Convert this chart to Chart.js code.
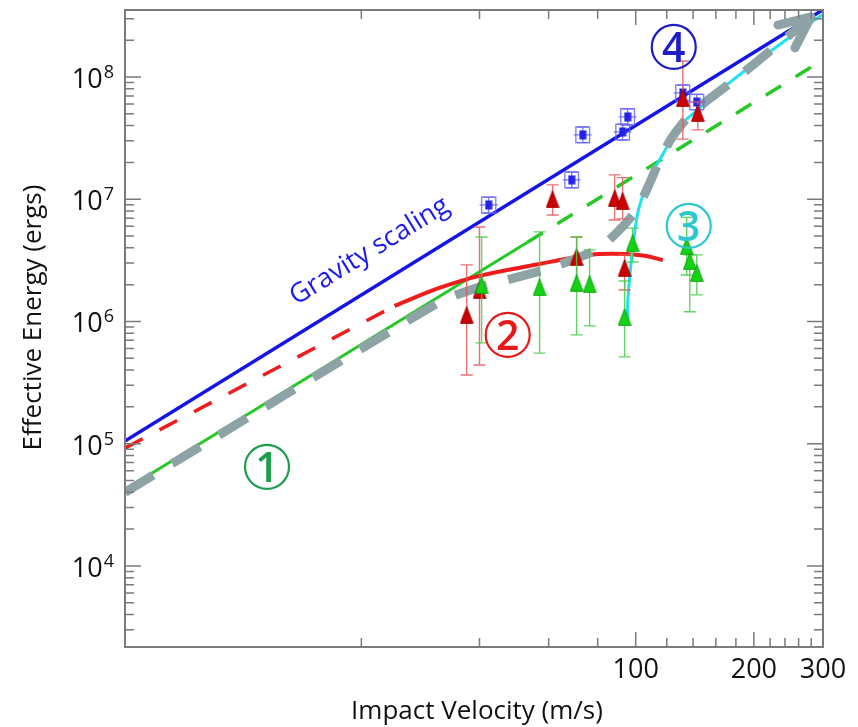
<!DOCTYPE html>
<html>
<head>
<meta charset="utf-8">
<script src="https://cdn.jsdelivr.net/npm/chart.js@4.4.0/dist/chart.umd.min.js"></script>
<style>
  html, body { margin: 0; padding: 0; background: #fff; }
  #wrap { width: 858px; height: 727px; }
</style>
</head>
<body>
<div id="wrap"><canvas id="chart" width="858" height="727"></canvas></div>
<script>
// axis ranges (m/s, ergs)
const xMin = 5, xMax = 300;
const yMin = 2170, yMax = 3.53e8;

// gravity scaling line
const gravityVel = [5, 300];
const gravityEnergy = [1.05e5, 3.55e8];

// red: dashed extrapolation, then the fitted curve
const redDashVel = [5, 24.3];
const redDashEnergy = [9.2e4, 1.34e6];
const redCurveVel = [24.3, 31.6, 40.0, 56.9, 70.7, 80.9, 94.9, 105.4, 117.2];
const redCurveEnergy = [1.34e6, 1.88e6, 2.36e6, 2.95e6, 3.37e6, 3.56e6, 3.56e6, 3.44e6, 3.18e6];

// green: solid, then dashed
const greenSolidVel = [5, 53];
const greenSolidEnergy = [4.19e4, 4.45e6];
const greenDashVel = [53, 300];
const greenDashEnergy = [4.45e6, 1.38e8];

// cyan curve
const cyanVel = [95.2, 95.5, 97.1, 98.8, 101.2, 105.4, 109.9, 115.1, 124.3, 131.8, 145.6, 160.9, 176.8, 215.9, 261.9, 298.2];
const cyanEnergy = [9.4e5, 1.5e6, 2.79e6, 4.64e6, 7.72e6, 1.19e7, 1.64e7, 2.1e7, 3.23e7, 4.2e7, 5.58e7, 7.4e7, 9.45e7, 1.54e8, 2.42e8, 3.21e8];

// thick grey path 1 -> 2 -> 3 -> 4 and its arrow head
const pathVel = [5, 31.6, 40, 58.6, 79.5, 89.4, 100.6, 108.6, 115.1, 123.5, 137.3, 156.3, 181, 232.9, 274.6];
const pathEnergy = [4.0e4, 1.44e6, 1.91e6, 2.64e6, 3.85e6, 5.3e6, 8.17e6, 1.36e7, 2.1e7, 3.17e7, 4.89e7, 6.86e7, 9.8e7, 1.9e8, 2.93e8];
const arrowVel = [230.3, 279.5, 254.5];
const arrowEnergy = [2.66e8, 3.1e8, 1.73e8];

// measurements
const redVel = [37.1, 40.0, 61.4, 70.7, 88.4, 92.6, 93.7, 131.8, 143.9];
const redEnergy = [1.13e6, 1.81e6, 1.0e7, 3.37e6, 1.02e7, 9.7e6, 2.74e6, 6.73e7, 5.08e7];
const redEnergyLo = [3.65e5, 4.4e5, 7.43e6, 1.81e6, 6.76e6, 6.9e6, 1.81e6, 3.1e7, 3.69e7];
const redEnergyHi = [2.9e6, 5.93e6, 1.31e7, 4.9e6, 1.58e7, 1.5e7, 3.5e6, 1.35e8, 6.25e7];

const greenVel = [40.5, 56.9, 70.7, 76.3, 93.7, 98.2, 134.9, 137.3, 143.1];
const greenEnergy = [1.99e6, 1.91e6, 2.07e6, 2.03e6, 1.09e6, 4.39e6, 4.15e6, 3.13e6, 2.49e6];
const greenEnergyLo = [6.67e5, 5.5e5, 7.76e5, 9.2e5, 5.13e5, 3.06e6, 2.4e6, 1.2e6, 1.65e6];
const greenEnergyHi = [4.9e6, 5.4e6, 4.9e6, 3.85e6, 2.14e6, 5.8e6, 7.1e6, 3.5e6, 3.5e6];

const blueVel = [42.2, 68.7, 73.3, 92.6, 95.4, 131.8, 143];
const blueEnergy = [8.97e6, 1.44e7, 3.36e7, 3.55e7, 4.71e7, 7.4e7, 6.24e7];
const blueEnergyLo = [7.7e6, 1.24e7, 2.9e7, 3.05e7, 4.05e7, 6.4e7, 5.4e7];
const blueEnergyHi = [1.04e7, 1.67e7, 3.9e7, 4.1e7, 5.5e7, 8.6e7, 7.2e7];
const blueVelLo = [40.5, 66, 70.4, 89, 91.6, 126.5, 137.3];
const blueVelHi = [44, 71.5, 76.3, 96.4, 99.3, 137.2, 149];

// stage labels
const stageLabels = ['1', '2', '3', '4'];
const stageVel = [11.5, 47.2, 136.5, 125];
const stageEnergy = [6.46e4, 7.76e5, 6.04e6, 1.76e8];
const gravityLabel = 'Gravity scaling';
const gravityLabelVel = 21.0, gravityLabelEnergy = 3.75e6;

// ticks
const xTickLabels = [100, 200, 300];
const xMajorTicks = [100, 200];
const xMinorTicks = [20, 40, 60, 80, 120, 140, 160, 180, 220, 240, 260, 280];
const yTickExponents = [4, 5, 6, 7, 8];
const yMinorMantissas = [2, 3, 4, 5, 6, 7, 8, 9];

const FONT = '"Open Sans", "Noto Sans", sans-serif';
const stageColors = ['#1b9e4b', '#e81818', '#2cc8d2', '#1c1cc8'];

function pts(xs, ys) {
    return xs.map((x, i) => ({ x: x, y: ys[i] }));
}

function makeTriangle(fill, stroke) {
    const c = document.createElement('canvas');
    c.width = 14;
    c.height = 18;
    const g = c.getContext('2d');
    g.beginPath();
    g.moveTo(7, 0.8);
    g.lineTo(13.3, 17.3);
    g.lineTo(0.7, 17.3);
    g.closePath();
    g.fillStyle = fill;
    g.fill();
    g.strokeStyle = stroke;
    g.lineWidth = 1;
    g.stroke();
    return c;
}

function makeBlueMark() {
    const c = document.createElement('canvas');
    c.width = 8;
    c.height = 10;
    const g = c.getContext('2d');
    g.fillStyle = '#2323e8';
    g.fillRect(0.5, 0.5, 7, 9);
    return c;
}

const decorPlugin = {
    id: 'decor',
    beforeDatasetDraw(chart, args) {
        const ds = chart.data.datasets[args.index];
        if (!ds.errLo) return;
        const ctx = chart.ctx, xs = chart.scales.x, ys = chart.scales.y, a = chart.chartArea;
        ctx.save();
        ctx.beginPath();
        ctx.rect(a.left, a.top, a.right - a.left, a.bottom - a.top);
        ctx.clip();
        ctx.strokeStyle = ds.errColor;
        ctx.lineWidth = 1.4;
        ds.data.forEach((p, i) => {
            const px = xs.getPixelForValue(p.x);
            const py = ys.getPixelForValue(p.y);
            const yLo = ys.getPixelForValue(ds.errLo[i]);
            const yHi = ys.getPixelForValue(ds.errHi[i]);
            let capW = 6;
            if (ds.xErrLo) {
                const xLo = xs.getPixelForValue(ds.xErrLo[i]);
                const xHi = xs.getPixelForValue(ds.xErrHi[i]);
                ctx.strokeRect(xLo, yHi, xHi - xLo, yLo - yHi);
                ctx.beginPath();
                ctx.moveTo(xLo - 2, py);
                ctx.lineTo(xHi + 2, py);
                ctx.stroke();
                capW = (xHi - xLo) / 2 - 1;
            }
            ctx.beginPath();
            ctx.moveTo(px, yLo);
            ctx.lineTo(px, yHi);
            ctx.moveTo(px - capW, yLo);
            ctx.lineTo(px + capW, yLo);
            ctx.moveTo(px - capW, yHi);
            ctx.lineTo(px + capW, yHi);
            ctx.stroke();
        });
        ctx.restore();
    },
    afterDatasetsDraw(chart) {
        const ctx = chart.ctx, xs = chart.scales.x, ys = chart.scales.y;
        ctx.save();
        // circled stage numbers
        stageLabels.forEach((lab, i) => {
            const px = xs.getPixelForValue(stageVel[i]);
            const py = ys.getPixelForValue(stageEnergy[i]);
            ctx.strokeStyle = stageColors[i];
            ctx.fillStyle = stageColors[i];
            ctx.lineWidth = 2.2;
            ctx.beginPath();
            ctx.arc(px, py, 22, 0, Math.PI * 2);
            ctx.stroke();
            ctx.font = '600 41px ' + FONT;
            ctx.textAlign = 'center';
            ctx.textBaseline = 'alphabetic';
            ctx.fillText(lab, px, py + 15);
        });
        // gravity scaling label along the blue line
        const g0x = xs.getPixelForValue(gravityVel[0]), g0y = ys.getPixelForValue(gravityEnergy[0]);
        const g1x = xs.getPixelForValue(gravityVel[1]), g1y = ys.getPixelForValue(gravityEnergy[1]);
        const ang = Math.atan2(g1y - g0y, g1x - g0x);
        ctx.translate(xs.getPixelForValue(gravityLabelVel), ys.getPixelForValue(gravityLabelEnergy));
        ctx.rotate(ang);
        ctx.fillStyle = '#1a1af0';
        ctx.font = '27px ' + FONT;
        ctx.textAlign = 'center';
        ctx.textBaseline = 'middle';
        ctx.fillText(gravityLabel, 0, 0);
        ctx.restore();
    },
    afterDraw(chart) {
        const ctx = chart.ctx, xs = chart.scales.x, ys = chart.scales.y, a = chart.chartArea;
        ctx.save();
        ctx.strokeStyle = '#7b7b7b';
        ctx.lineWidth = 2;
        ctx.strokeRect(a.left, a.top, a.right - a.left, a.bottom - a.top);

        ctx.lineWidth = 1.5;
        ctx.beginPath();
        const xTick = (v, len) => {
            const px = xs.getPixelForValue(v);
            ctx.moveTo(px, a.bottom);
            ctx.lineTo(px, a.bottom - len);
            ctx.moveTo(px, a.top);
            ctx.lineTo(px, a.top + len);
        };
        const yTick = (v, len) => {
            const py = ys.getPixelForValue(v);
            ctx.moveTo(a.left, py);
            ctx.lineTo(a.left + len, py);
            ctx.moveTo(a.right, py);
            ctx.lineTo(a.right - len, py);
        };
        xMajorTicks.forEach(v => xTick(v, 15));
        xMinorTicks.forEach(v => xTick(v, 9));
        for (let e = 3; e <= 8; e++) {
            const major = Math.pow(10, e);
            if (major >= yMin && major <= yMax) yTick(major, 16);
            yMinorMantissas.forEach(m => {
                const v = m * major;
                if (v > yMin && v < yMax) yTick(v, 9);
            });
        }
        ctx.stroke();

        // tick labels
        ctx.fillStyle = '#111';
        ctx.font = '27px ' + FONT;
        ctx.textAlign = 'center';
        ctx.textBaseline = 'alphabetic';
        xTickLabels.forEach(v => {
            ctx.fillText(String(v), xs.getPixelForValue(v), a.bottom + 31);
        });
        yTickExponents.forEach(e => {
            const py = ys.getPixelForValue(Math.pow(10, e));
            ctx.font = '18px ' + FONT;
            const w2 = ctx.measureText(String(e)).width;
            ctx.font = '27px ' + FONT;
            const w1 = ctx.measureText('10').width;
            const right = a.left - 11;
            ctx.textAlign = 'left';
            ctx.fillText('10', right - w2 - w1 - 1, py + 11);
            ctx.font = '18px ' + FONT;
            ctx.fillText(String(e), right - w2, py + 1);
        });

        // axis titles
        ctx.font = '26px ' + FONT;
        ctx.textAlign = 'center';
        ctx.fillText('Impact Velocity (m/s)', (a.left + a.right) / 2 + 3, a.bottom + 72);
        ctx.translate(41, (a.top + a.bottom) / 2 - 11);
        ctx.rotate(-Math.PI / 2);
        ctx.fillText('Effective Energy (ergs)', 0, 0);
        ctx.restore();
    }
};

const redTri = makeTriangle('#cc0000', '#a00000');
const greenTri = makeTriangle('#14d214', '#0ea80e');
const blueMark = makeBlueMark();

const lineBase = { showLine: true, pointRadius: 0, fill: false };

const datasets = [
    { data: pts(greenVel, greenEnergy), pointStyle: greenTri, pointRadius: 8, showLine: false,
      errLo: greenEnergyLo, errHi: greenEnergyHi, errColor: 'rgba(70,205,70,0.85)', order: 1 },
    { data: pts(redVel, redEnergy), pointStyle: redTri, pointRadius: 8, showLine: false,
      errLo: redEnergyLo, errHi: redEnergyHi, errColor: 'rgba(228,90,90,0.85)', order: 2 },
    { data: pts(blueVel, blueEnergy), pointStyle: blueMark, pointRadius: 5, showLine: false,
      errLo: blueEnergyLo, errHi: blueEnergyHi, xErrLo: blueVelLo, xErrHi: blueVelHi,
      errColor: 'rgba(100,100,245,0.8)', order: 3 },
    Object.assign({}, lineBase, { data: pts(arrowVel, arrowEnergy), borderColor: '#8ea3a5', borderWidth: 9,
      borderCapStyle: 'round', borderJoinStyle: 'round', order: 4 }),
    Object.assign({}, lineBase, { data: pts(pathVel, pathEnergy), borderColor: '#8ea3a5', borderWidth: 9,
      borderDash: [33, 22], tension: 0.2, order: 5 }),
    Object.assign({}, lineBase, { data: pts(cyanVel, cyanEnergy), borderColor: '#22e2f0', borderWidth: 3,
      tension: 0.3, order: 6 }),
    Object.assign({}, lineBase, { data: pts(redCurveVel, redCurveEnergy), borderColor: '#ee1c1c', borderWidth: 4,
      tension: 0.4, order: 7 }),
    Object.assign({}, lineBase, { data: pts(redDashVel, redDashEnergy), borderColor: '#ee1c1c', borderWidth: 3.5,
      borderDash: [20, 19], order: 8 }),
    Object.assign({}, lineBase, { data: pts(greenDashVel, greenDashEnergy), borderColor: '#26c826', borderWidth: 3.5,
      borderDash: [18, 17], order: 9 }),
    Object.assign({}, lineBase, { data: pts(greenSolidVel, greenSolidEnergy), borderColor: '#26c826', borderWidth: 3,
      order: 10 }),
    Object.assign({}, lineBase, { data: pts(gravityVel, gravityEnergy), borderColor: '#1414e6', borderWidth: 3.5,
      order: 11 })
];

new Chart(document.getElementById('chart'), {
    type: 'scatter',
    data: { datasets: datasets },
    options: {
        responsive: false,
        animation: false,
        devicePixelRatio: 1,
        layout: { padding: { left: 125, right: 35, top: 10, bottom: 80 } },
        plugins: { legend: { display: false }, tooltip: { enabled: false } },
        scales: {
            x: { type: 'logarithmic', min: xMin, max: xMax, display: false },
            y: { type: 'logarithmic', min: yMin, max: yMax, display: false }
        }
    },
    plugins: [decorPlugin]
});
</script>
</body>
</html>
